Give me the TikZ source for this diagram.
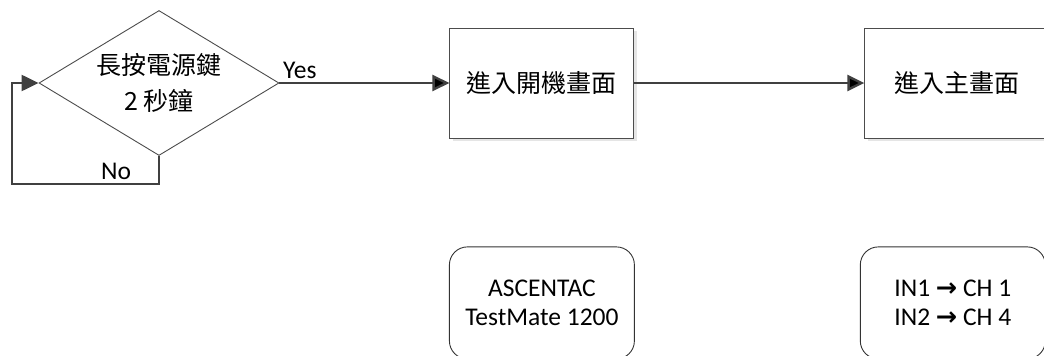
\documentclass[tikz,border=0pt]{standalone}
\usepackage{fontspec}
\setmainfont{Carlito}
\newfontfamily\cjk{Noto Sans CJK TC}
\newfontfamily\symfont{DejaVu Sans}
\usetikzlibrary{arrows.meta,shapes.geometric,positioning,shadows}

\newcommand{\toarrow}{{\symfont\bfseries →}}

\begin{document}
\begin{tikzpicture}[x=1pt,y=-1pt,>={Triangle[length=17pt,width=16pt]},
  decision/.style={diamond,draw=black!70,line width=0.9pt,aspect=1.65,minimum width=240pt,
    minimum height=145pt,inner sep=0pt,align=center,font=\cjk\fontsize{25}{36}\selectfont},
  screen/.style={rectangle,draw=black!70,line width=0.9pt,fill=white,minimum width=184pt,
    minimum height=110pt,font=\cjk\fontsize{25}{30}\selectfont,
    drop shadow={shadow xshift=3pt,shadow yshift=-3pt,fill=black!25,opacity=0.4}},
  note/.style={rectangle,rounded corners=18pt,draw=black!80,line width=0.9pt,minimum width=185pt,
    minimum height=112pt,align=center,font=\fontsize{25.5}{29}\selectfont}]

  \useasboundingbox (0,0) rectangle (1044,356);

  \node[decision] (press) at (159,83) {長按電源鍵\\2 秒鐘};
  \node[screen] (boot) [right=170pt of press] {進入開機畫面};
  \node[screen] (home) [right=230pt of boot] {進入主畫面};
  \node[note] (model) [below=108pt of boot] {ASCENTAC\\TestMate 1200};
  \node[note] (route) [below=108pt of home, xshift=-4pt] {IN1 \toarrow{} CH 1\\IN2 \toarrow{} CH 4};
  \coordinate (loop) at (12,184);

  \path[->,draw=black!75,line width=2.4pt,every node/.style={font=\fontsize{25.5}{28}\selectfont}]
     (press) edge node [pos=0.12,above]{Yes} (boot)
     (boot) edge (home);
  \draw[->,draw=black!75,line width=2.4pt] (press.south) |- (loop)
     node [pos=0.646,above,font=\fontsize{25.5}{28}\selectfont]{No} |- (press.west);
\end{tikzpicture}
\end{document}
